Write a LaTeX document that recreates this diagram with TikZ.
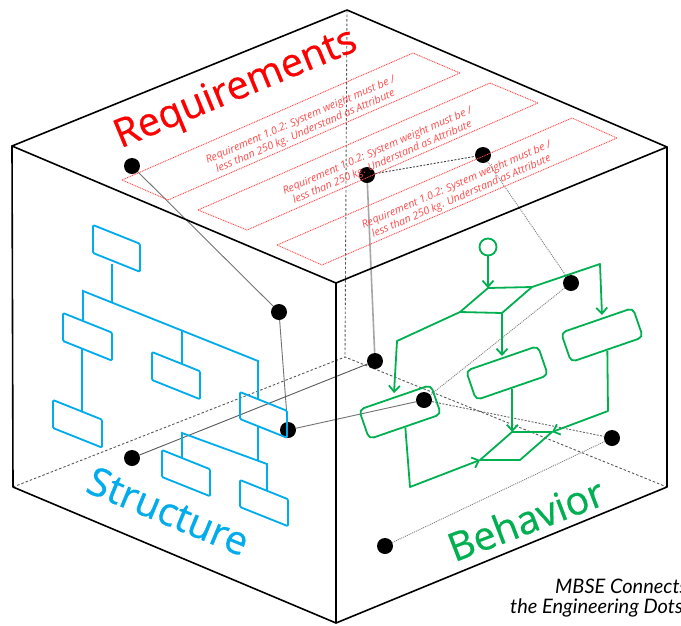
\documentclass[tikz,border=0pt]{standalone}
\usepackage{fontspec}
\setmainfont{Open Sans}
\newfontfamily\labfont[FakeBold=0.6]{Open Sans}
\newfontfamily\capfont{Lato}
\usetikzlibrary{arrows.meta}
\definecolor{reqred}{RGB}{255,0,0}
\definecolor{strblue}{RGB}{0,172,236}
\definecolor{behgreen}{RGB}{0,176,80}
\newcommand{\blublock}[4]{\draw[bluebox] (#1,#2) -- ++(#3,0.4*#3) -- ++(0,#4) -- ++(-#3,-0.4*#3) -- cycle;}
\begin{document}
\begin{tikzpicture}[x=1pt,y=-1pt,
  cubeedge/.style={line width=1.6pt,black,line cap=round,line join=round},
  hiddenedge/.style={line width=0.9pt,black!65,dash pattern=on 2.5pt off 2pt},
  link/.style={line width=0.9pt,black!55},
  linkdash/.style={line width=0.9pt,black!75,dash pattern=on 2pt off 1.5pt},
  linkdot/.style={line width=0.9pt,black!50,dash pattern=on 1pt off 1pt},
  mdot/.style={circle,fill=black,inner sep=0pt,minimum size=16pt},
  reqbox/.style={draw=red!70,line width=0.9pt,dash pattern=on 1pt off 0.8pt},
  reqtext/.style={text=red!70,font=\itshape\fontsize{10.6}{12.5}\selectfont,align=center,inner sep=0pt,rotate=23.4},
  bluebox/.style={draw=strblue,line width=1.8pt,rounded corners=1.2pt,line join=round},
  blueline/.style={strblue,line width=1.8pt},
  gbox/.style={draw=behgreen,line width=1.8pt,rounded corners=5pt,minimum width=76pt,minimum height=31pt,inner sep=0pt,rotate=19},
  gline/.style={behgreen,line width=1.8pt,line join=round},
  garrow/.style={gline,-{Straight Barb[length=6pt,width=11pt]}},
  facelabel/.style={anchor=base,inner sep=0pt,font=\labfont\fontsize{39.5}{42}\selectfont},
  captext/.style={anchor=base west,inner sep=0pt,font=\capfont\itshape\fontsize{20}{22}\selectfont},
]
\useasboundingbox (0,0) rectangle (681,625);
\clip (0,0) rectangle (681,625);
\fill[white] (0,0) rectangle (681,625);

% cube vertices
\coordinate (B) at (347,10);
\coordinate (L) at (12,146);
\coordinate (F) at (336,283);
\coordinate (R) at (667,147);
\coordinate (LB) at (13,487);
\coordinate (FB) at (336,623);
\coordinate (RB) at (667,487);
\coordinate (BB) at (345,357);

% hidden edges
\draw[hiddenedge] (B) -- (BB);
\draw[hiddenedge] (LB) -- (BB) -- (RB);

% dots
\node[mdot] (d1) at (132,166) {};
\node[mdot] (d2) at (367,175) {};
\node[mdot] (d3) at (483,155) {};
\node[mdot] (d4) at (279,312) {};
\node[mdot] (d5) at (571,283) {};
\node[mdot] (d6) at (375,361) {};
\node[mdot] (d7) at (424,400) {};
\node[mdot] (d8) at (288,430) {};
\node[mdot] (d9) at (132,458) {};
\node[mdot] (d10) at (612,438) {};
\node[mdot] (d11) at (385,546) {};

% links
\draw[link] (d1) -- (d4);
\draw[link] (d4) -- (d8);
\draw[link] (d8) -- (d7);
\draw[link,black!35,line width=1.6pt] (d2) -- (d6);
\draw[linkdash] (d2) -- (d3);
\draw[linkdot] (d3) -- (d5);
\draw[linkdot] (d5) -- (d7);
\draw[link,black!65] (d9) -- (d6);
\draw[linkdash,black!60] (d7) -- (d10);
\draw[linkdot] (d10) -- (d11);

% cube visible edges
\draw[cubeedge] (L) -- (B) -- (R) -- (F) -- cycle;
\draw[cubeedge] (L) -- (LB) -- (FB) -- (RB) -- (R);
\draw[cubeedge] (F) -- (FB);

% structure diagram
\blublock{93}{225}{47}{28}
\draw[blueline] (112,263.8) -- (112,302.6);
\draw[blueline] (83,321) -- (83,291) -- (258,361) -- (258,399.2);
\blublock{63}{313}{49}{28}
\draw[blueline] (82,348.6) -- (82,411.6);
\blublock{53}{400}{49}{28}
\draw[blueline] (182,330.6) -- (182,364);
\blublock{152}{352}{48}{28}
\blublock{240}{392}{47}{27}
\draw[blueline] (258,426.2) -- (258,461);
\draw[blueline] (182,458) -- (182,433) -- (267,464) -- (267,490.8);
\blublock{162}{450}{48}{27}
\blublock{240}{480}{48}{27}

% behavior diagram
\node[circle,draw=behgreen,line width=1.8pt,minimum size=17pt,inner sep=0pt] (init) at (488,247) {};
\coordinate (p1a) at (488,288);
\coordinate (p1b) at (532,287);
\coordinate (p1c) at (502,313);
\coordinate (p1d) at (460,312);
\draw[gline] (p1a) -- (p1b) -- (p1c) -- (p1d) -- cycle;
\coordinate (p2a) at (512,432);
\coordinate (p2b) at (552,432);
\coordinate (p2c) at (520,460);
\coordinate (p2d) at (480,460);
\draw[gline] (p2a) -- (p2b) -- (p2c) -- (p2d) -- cycle;
\node[gbox] (g1) at (400,412) {};
\node[gbox] (g2) at (507,373) {};
\node[gbox] (g3) at (602,335) {};
\draw[garrow] (init.south) -- (p1a);
\draw[garrow] (p1d) -- (397,341) -- (394,393);
\draw[garrow] (p1c) -- (502,356);
\draw[garrow] (p1b) -- (600,264) -- (602,315);
\draw[garrow] (g2.south) -- (g2.south |- p2a);
\draw[garrow] (g3.south) -- (608,411) -- (p2b);
\draw[garrow] (g1.south) -- (410,487) -- (p2d);

% requirement boxes
\draw[reqbox] (122,180) -- (413,53) -- (460,73) -- (168,200) -- cycle;
\draw[reqbox] (198,210) -- (490,83) -- (538,103) -- (247,230) -- cycle;
\draw[reqbox] (277,245) -- (572,118) -- (617,138) -- (322,265) -- cycle;
\node[reqtext] (rt1) at (303,126) {Requirement 1.0.2: System weight must be /\\less than 250 kg. Understand as Attribute};
\node[reqtext] (rt2) at (380,157) {Requirement 1.0.2: System weight must be /\\less than 250 kg. Understand as Attribute};
\node[reqtext] (rt3) at (459,191) {Requirement 1.0.2: System weight must be /\\less than 250 kg. Understand as Attribute};

% face labels
\node[facelabel,text=reqred,rotate=22.5] (lreq) at (240,99) {Requirements};
\node[facelabel,text=strblue,rotate=-22.5] (lstr) at (163,524) {Structure};
\node[facelabel,text=behgreen,rotate=21] (lbeh) at (531,533) {Behavior};

% caption
\node[captext] (cap1) at (555,593) {MBSE Connects};
\node[captext] (cap2) at (510,613) {the Engineering Dots};
\end{tikzpicture}
\end{document}
